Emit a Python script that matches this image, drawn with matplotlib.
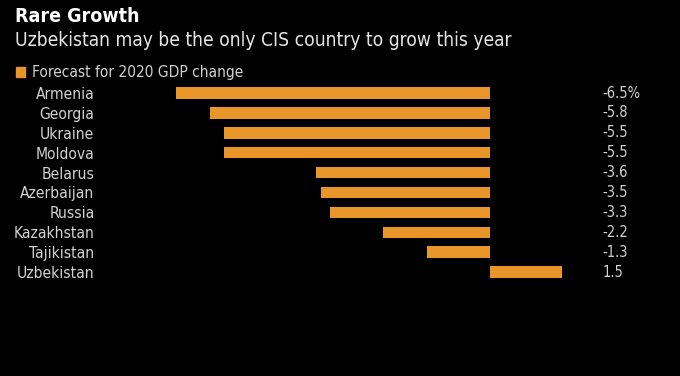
import matplotlib.pyplot as plt

countries = ["Armenia", "Georgia", "Ukraine", "Moldova", "Belarus",
             "Azerbaijan", "Russia", "Kazakhstan", "Tajikistan", "Uzbekistan"]
gdp_change = [-6.5, -5.8, -5.5, -5.5, -3.6, -3.5, -3.3, -2.2, -1.3, 1.5]
value_labels = ["-6.5%", "-5.8", "-5.5", "-5.5", "-3.6", "-3.5", "-3.3", "-2.2", "-1.3", "1.5"]

bar_color = "#e8952a"
text_color = "#d2d2d2"

plt.rcParams['font.family'] = ['DejaVu Sans']
plt.rcParams['font.stretch'] = 'condensed'

fig = plt.figure(figsize=(6.8, 3.76), dpi=100, facecolor="black")
ax = fig.add_axes([0.147, 0.25, 0.838, 0.529], facecolor="black")

ypos = list(range(len(countries)))
ax.barh(ypos, gdp_change, height=0.58, color=bar_color)
ax.set_ylim(len(countries) - 0.5, -0.5)
ax.set_xlim(-8.07, 3.73)

for y, lab in zip(ypos, value_labels):
    ax.text(2.34, y, lab, color=text_color, fontsize=10.5, va="center", ha="left",
            fontstretch="condensed")

ax.set_yticks(ypos)
ax.set_yticklabels(countries, color=text_color, fontsize=11.2, fontstretch="condensed")
ax.tick_params(axis="y", length=0, pad=4)
ax.set_xticks([])
for s in ax.spines.values():
    s.set_visible(False)

fig.text(15 / 680, 1 - 17 / 376, "Rare Growth", color="white", fontsize=14,
         fontweight="bold", va="center", ha="left", fontstretch="condensed")
fig.text(15 / 680, 1 - 41 / 376, "Uzbekistan may be the only CIS country to grow this year",
         color="#e6e6e6", fontsize=13.8, va="center", ha="left", fontstretch="condensed")
fig.patches.append(plt.Rectangle((16 / 680, 1 - 77 / 376), 9 / 680, 10 / 376,
                                 transform=fig.transFigure, color=bar_color, figure=fig))
fig.text(32 / 680, 1 - 72 / 376, "Forecast for 2020 GDP change", color=text_color,
         fontsize=11.1, va="center", ha="left", fontstretch="condensed")

fig.savefig("out.png", dpi=100, facecolor="black")
